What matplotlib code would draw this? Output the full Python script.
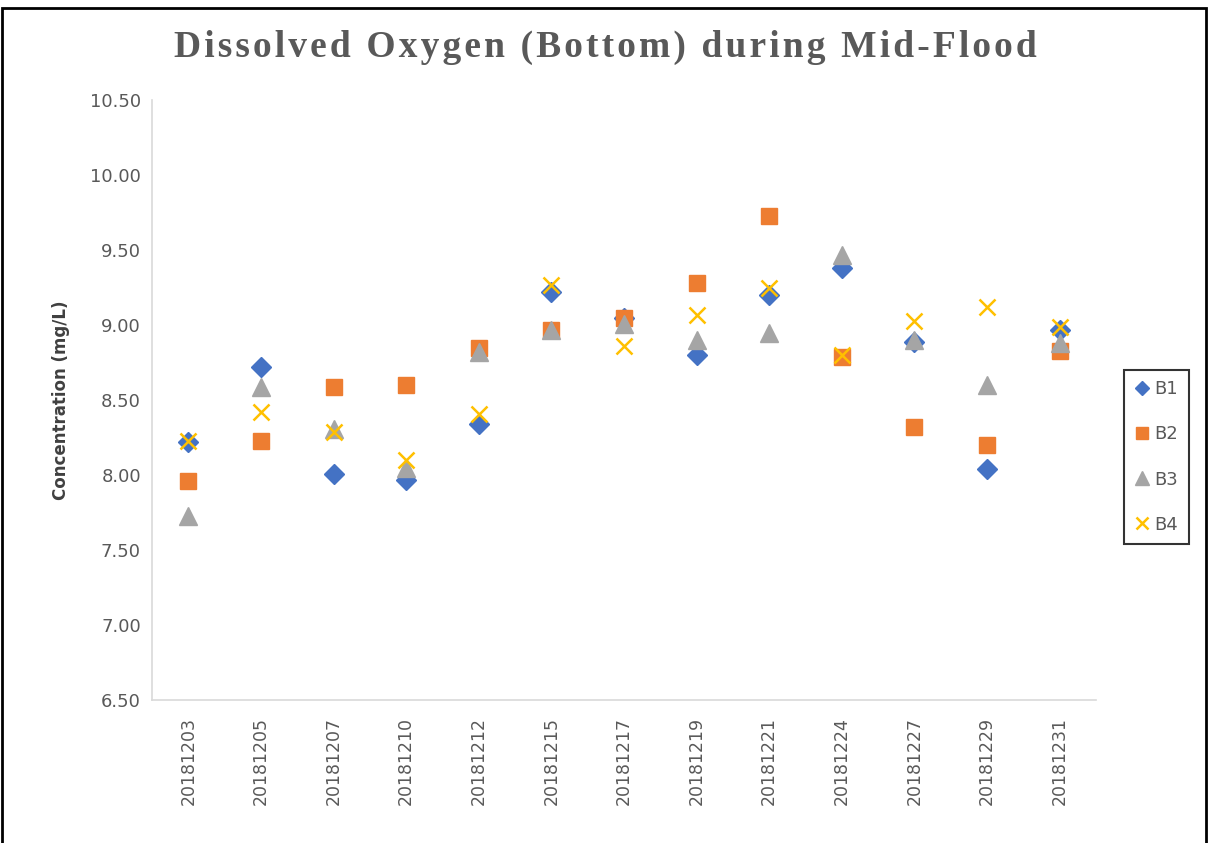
import matplotlib
matplotlib.use("Agg")
import matplotlib.pyplot as plt
from matplotlib.patches import Rectangle

dates = ["20181203", "20181205", "20181207", "20181210", "20181212", "20181215",
         "20181217", "20181219", "20181221", "20181224", "20181227", "20181229", "20181231"]
b1 = [8.22, 8.72, 8.01, 7.97, 8.34, 9.22, 9.05, 8.80, 9.20, 9.38, 8.89, 8.04, 8.97]
b2 = [7.96, 8.23, 8.59, 8.60, 8.85, 8.97, 9.05, 9.28, 9.73, 8.79, 8.32, 8.20, 8.83]
b3 = [7.73, 8.59, 8.31, 8.05, 8.82, 8.97, 9.01, 8.90, 8.95, 9.47, 8.90, 8.60, 8.88]
b4 = [8.23, 8.42, 8.29, 8.10, 8.41, 9.27, 8.86, 9.07, 9.25, 8.80, 9.03, 9.12, 8.99]
yticks = [6.5, 7.0, 7.5, 8.0, 8.5, 9.0, 9.5, 10.0, 10.5]
title = "Dissolved Oxygen (Bottom) during Mid-Flood"

fig = plt.figure(figsize=(12.08, 8.43), dpi=100)
ax = fig.add_axes([152/1208, 1 - 700/843, (1096-152)/1208, 600/843])

x = list(range(len(dates)))
ax.plot(x, b1, linestyle='none', marker='D', ms=10, color='#4472C4', label='B1')
ax.plot(x, b2, linestyle='none', marker='s', ms=12, color='#ED7D31', label='B2')
ax.plot(x, b3, linestyle='none', marker='^', ms=13, color='#A5A5A5', label='B3')
ax.plot(x, b4, linestyle='none', marker='x', ms=12, mew=1.8, color='#FFC000', label='B4')

ax.set_xlim(-0.5, len(dates) - 0.5)
ax.set_ylim(6.5, 10.5)
ax.set_yticks(yticks)
ax.set_yticklabels([f"{v:.2f}" for v in yticks], fontsize=13, color='#595959')
ax.set_xticks(x)
ax.set_xticklabels(dates, rotation=90, fontsize=12.5, color='#595959')
ax.tick_params(axis='both', length=0, pad=8)
ax.tick_params(axis='x', pad=12)
for s in ['top', 'right']:
    ax.spines[s].set_visible(False)
for s in ['left', 'bottom']:
    ax.spines[s].set_color('#D9D9D9')
    ax.spines[s].set_linewidth(1.2)

ax.set_ylabel("Concentration (mg/L)", fontsize=12, fontweight='bold', color='#404040', labelpad=14)

spaced = "\u200a".join(title)
fig.text(605/1208, 1 - 47/843, spaced,
         ha='center', va='center', fontsize=27, fontweight='bold', color='#595959',
         family='Liberation Serif')

leg = ax.legend(loc='center left', bbox_to_anchor=(1124/1208, 1 - 457/843),
                bbox_transform=fig.transFigure, frameon=True, fancybox=False,
                edgecolor='black', fontsize=13, labelspacing=1.5, handlelength=0.8,
                handletextpad=0.3, borderpad=0.6, borderaxespad=0, markerscale=0.75)
leg.get_frame().set_linewidth(1.5)
for t in leg.get_texts():
    t.set_color('#595959')

fig.patches.append(Rectangle((0.002, -0.01), 0.996, 1.0, transform=fig.transFigure,
                             fill=False, edgecolor='black', linewidth=2))

fig.savefig("out.png", dpi=100)
